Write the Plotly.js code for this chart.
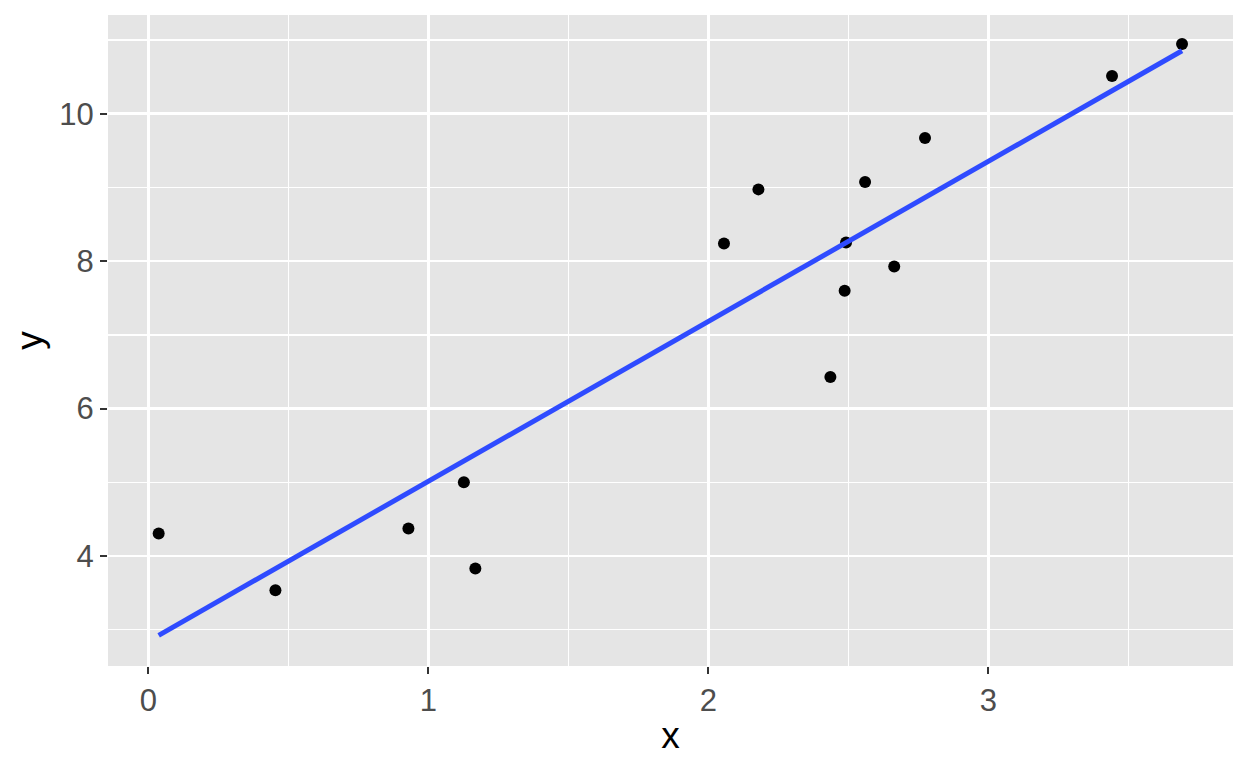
<!DOCTYPE html>
<html>
<head>
<meta charset="utf-8">
<script src="https://cdn.plot.ly/plotly-3.0.1.min.js"></script>
<style>html,body{margin:0;padding:0;background:#fff;}#chart{width:1248px;height:768px;}</style>
</head>
<body>
<div id="chart"></div>
<script>
// Scatter points
const xValues = [0.037, 0.454, 0.929, 1.127, 1.168, 2.056, 2.179, 2.436, 2.487, 2.492, 2.560, 2.664, 2.774, 3.442, 3.692];
const yValues = [4.305, 3.536, 4.373, 5.000, 3.830, 8.240, 8.973, 6.430, 7.597, 8.254, 9.072, 7.928, 9.669, 10.510, 10.944];
// Fitted line endpoints
const fitX = [0.037, 3.692];
const fitY = [2.925, 10.853];
const xTickVals = [0, 1, 2, 3];
const xTickText = ["0", "1", "2", "3"];
const yTickVals = [4, 6, 8, 10];
const yTickText = ["4", "6", "8", "10"];

const font = "Liberation Sans, Arial, Helvetica, sans-serif";

const traces = [
  {x: xValues, y: yValues, type: "scatter", mode: "markers",
   marker: {color: "#000000", size: 12}, hoverinfo: "x+y"},
  {x: fitX, y: fitY, type: "scatter", mode: "lines",
   line: {color: "#2F4BFF", width: 5}, hoverinfo: "skip"}
];

const layout = {
  width: 1248, height: 768,
  paper_bgcolor: "#FFFFFF", plot_bgcolor: "#E5E5E5",
  margin: {l: 108, r: 15, t: 15, b: 102, pad: 0},
  showlegend: false,
  font: {family: font},
  xaxis: {
    range: [-0.144, 3.874], autorange: false,
    tickmode: "array", tickvals: xTickVals, ticktext: xTickText,
    ticks: "outside", ticklen: 7, tickwidth: 2, tickcolor: "#333333",
    tickfont: {family: font, size: 31, color: "#4D4D4D"},
    showgrid: true, gridcolor: "#FFFFFF", gridwidth: 2.5,
    minor: {dtick: 0.5, tick0: 0, showgrid: true, gridcolor: "#FFFFFF", gridwidth: 1.3, ticks: ""},
    zeroline: false, showline: false,
    title: {text: "x", font: {family: font, size: 37, color: "#000000"}, standoff: 4}
  },
  yaxis: {
    range: [2.509, 11.338], autorange: false,
    tickmode: "array", tickvals: yTickVals, ticktext: yTickText,
    ticks: "outside", ticklen: 7, tickwidth: 2, tickcolor: "#333333",
    tickfont: {family: font, size: 31, color: "#4D4D4D"},
    showgrid: true, gridcolor: "#FFFFFF", gridwidth: 2.5,
    minor: {dtick: 1, tick0: 0, showgrid: true, gridcolor: "#FFFFFF", gridwidth: 1.3, ticks: ""},
    zeroline: false, showline: false,
    title: {text: "y", font: {family: font, size: 37, color: "#000000"}, standoff: 5}
  }
};

Plotly.newPlot("chart", traces, layout, {displayModeBar: false, staticPlot: true});
</script>
</body>
</html>
